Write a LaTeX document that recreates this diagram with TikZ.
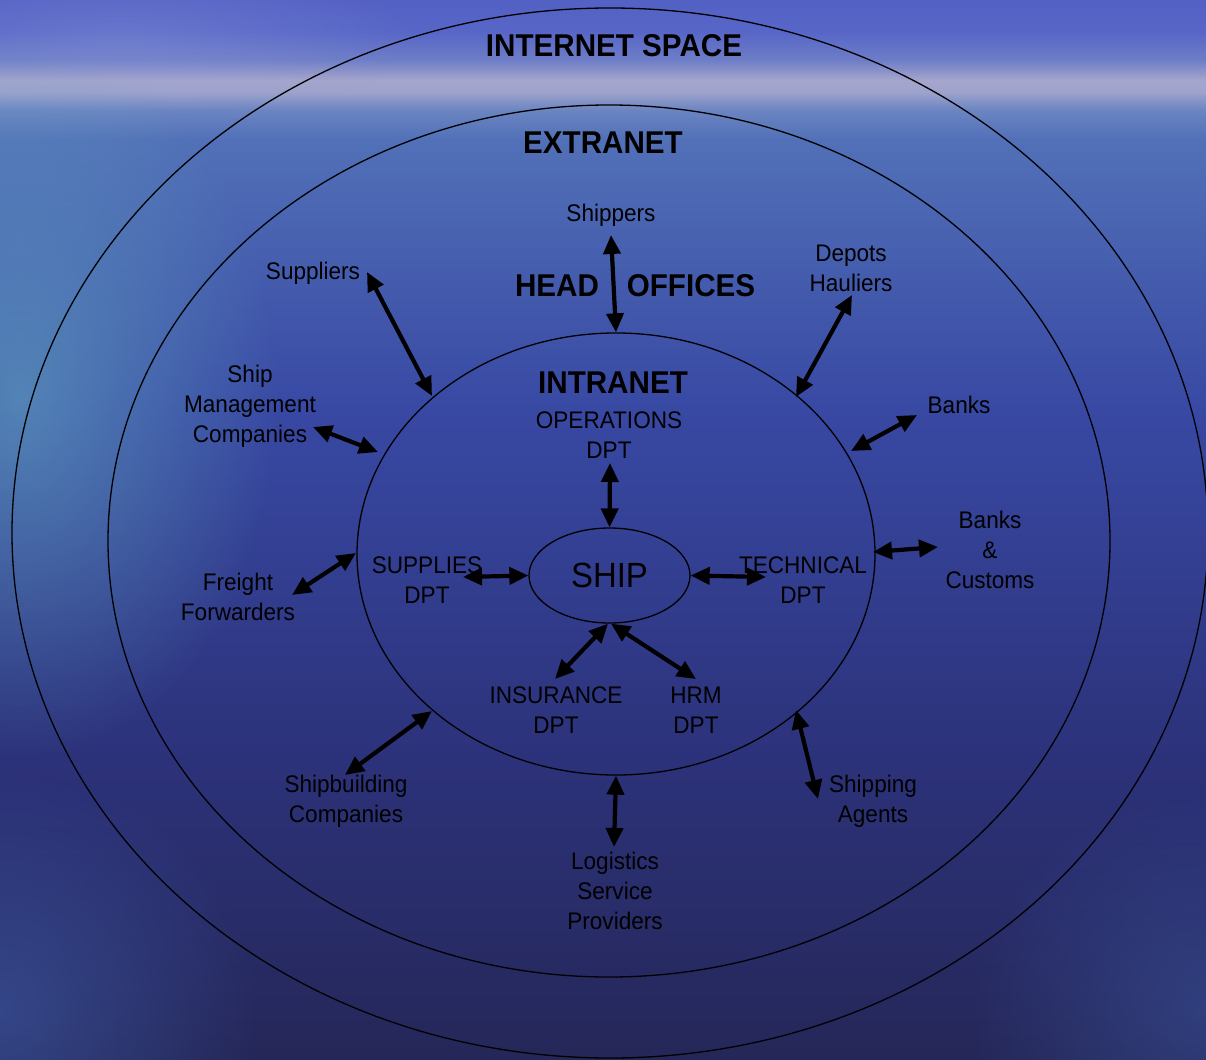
\documentclass[tikz,border=0pt]{standalone}
\usepackage{fontspec}
\setmainfont{Liberation Sans}[FakeStretch=0.94]
\usetikzlibrary{shapes.geometric,arrows.meta,fadings}
\pgfdeclareverticalshading{sea}{100bp}{rgb(0bp)=(0.145,0.153,0.345); rgb(25bp)=(0.145,0.153,0.345); rgb(39.2bp)=(0.173,0.196,0.478); rgb(55.7bp)=(0.220,0.285,0.640); rgb(68.4bp)=(0.320,0.440,0.720); rgb(69.8bp)=(0.420,0.520,0.760); rgb(70.66bp)=(0.620,0.640,0.800); rgb(71.2bp)=(0.650,0.650,0.800); rgb(72.17bp)=(0.430,0.490,0.780); rgb(73.5bp)=(0.340,0.400,0.780); rgb(75bp)=(0.330,0.380,0.770); rgb(100bp)=(0.330,0.380,0.770)}
\tikzfading[name=fuzzy, inner color=transparent!0, outer color=transparent!100]
\definecolor{tealc}{RGB}{100,170,195}
\definecolor{cornc}{RGB}{62,90,165}
\definecolor{skyc}{RGB}{150,160,220}
\begin{document}
\begin{tikzpicture}[x=1pt,y=-1pt,
  ring/.style={draw=black, line width=1.3pt, ellipse, inner sep=0pt},
  head/.style={font=\fontsize{31.5}{36}\selectfont\bfseries, inner sep=0pt},
  lbl/.style={font=\fontsize{24}{30}\selectfont, align=center, inner sep=0pt},
  dbl/.style={line width=4.2pt, {Triangle[length=19pt,width=17pt]}-{Triangle[length=19pt,width=17pt]}}]
\useasboundingbox (0,0) rectangle (1206,1059);
\clip (0,0) rectangle (1206,1059);
% background sea
\shade[shading=sea] (0,0) rectangle (1206,1059);
\fill[tealc, fill opacity=0.6, path fading=fuzzy] (20,400) ellipse [x radius=260, y radius=360];
\fill[skyc, fill opacity=0.3, path fading=fuzzy] (120,40) ellipse [x radius=300, y radius=80];
\fill[cornc, fill opacity=0.6, path fading=fuzzy] (0,1010) ellipse [x radius=260, y radius=240];
\fill[cornc, fill opacity=0.45, path fading=fuzzy] (1206,1010) ellipse [x radius=240, y radius=220];
% rings
\node[ring, minimum width=1196pt, minimum height=1050pt] (inet) at (610,533) {};
\node[ring, minimum width=1002pt, minimum height=872pt] (extra) at (609,541) {};
\node[ring, minimum width=518pt, minimum height=442pt] (intra) at (616,554) {};
\node[ring, minimum width=161pt, minimum height=95pt, font=\fontsize{35}{40}\selectfont] (ship) at (609.5,575.5) {SHIP};
% headings
\node[head] (tinet) at (614,46) {INTERNET SPACE};
\node[head] (textra) at (603,143) {EXTRANET};
\node[head] (thead) at (557,286) {HEAD};
\node[head] (toff) at (691,286) {OFFICES};
\node[head] (tintra) at (613,383) {INTRANET};
% outer labels
\node[lbl] (shippers) at (611,215) {Shippers};
\node[lbl] (suppliers) at (313,273) {Suppliers};
\node[lbl] (shipman) at (250,406.5) {Ship\\Management\\Companies};
\node[lbl] (depots) at (851,268.5) {Depots\\Hauliers};
\node[lbl] (banks) at (959,405) {Banks};
\node[lbl] (bankscus) at (990,549.5) {Banks\\\&\\Customs};
\node[lbl] (freight) at (238,597) {Freight\\Forwarders};
\node[lbl] (shipbuild) at (346,801.5) {Shipbuilding\\Companies};
\node[lbl] (logistics) at (615,891) {Logistics\\Service\\Providers};
\node[lbl] (agents) at (873,801.5) {Shipping\\Agents};
% departments
\node[lbl] (ops) at (609,435.5) {OPERATIONS\\DPT};
\node[lbl] (sup) at (427,580) {SUPPLIES\\DPT};
\node[lbl] (tech) at (803,580) {TECHNICAL\\DPT};
\node[lbl] (ins) at (556,710.5) {INSURANCE\\DPT};
\node[lbl] (hrm) at (696,710.5) {HRM\\DPT};
% arrow end points
\coordinate (shipA) at (611,235);
\coordinate (supA) at (367,272); \coordinate (supB) at (432,396);
\coordinate (smA) at (313,427); \coordinate (smB) at (378,452);
\coordinate (depA) at (852,295); \coordinate (depB) at (796,397);
\coordinate (bkA) at (917,415); \coordinate (bkB) at (851,451);
\coordinate (bcA) at (873,552); \coordinate (bcB) at (938,547);
\coordinate (ffA) at (356,553); \coordinate (ffB) at (292,595);
\coordinate (sbA) at (432,711); \coordinate (sbB) at (345,775);
\coordinate (lgB) at (614,847);
\coordinate (saA) at (796,710); \coordinate (saB) at (818,799);
\coordinate (opA) at (610,463);
\coordinate (suA) at (463,577);
\coordinate (teB) at (766,577);
\coordinate (inB) at (555,679);
\coordinate (hrB) at (696,679);
% arrows
\draw[dbl] (shipA) -- (intra.north);
\draw[dbl] (supA) -- (supB);
\draw[dbl] (smA) -- (smB);
\draw[dbl] (depA) -- (depB);
\draw[dbl] (bkA) -- (bkB);
\draw[dbl] (bcA) -- (bcB);
\draw[dbl] (ffA) -- (ffB);
\draw[dbl] (sbA) -- (sbB);
\draw[dbl] (intra.south) -- (lgB);
\draw[dbl] (saA) -- (saB);
\draw[dbl] (opA) -- (ship.north);
\draw[dbl] (suA) -- (ship.west);
\draw[dbl] (ship.east) -- (teB);
\draw[dbl] ([xshift=-1.5pt]ship.south) -- (inB);
\draw[dbl] ([xshift=1.5pt]ship.south) -- (hrB);
\end{tikzpicture}
\end{document}
